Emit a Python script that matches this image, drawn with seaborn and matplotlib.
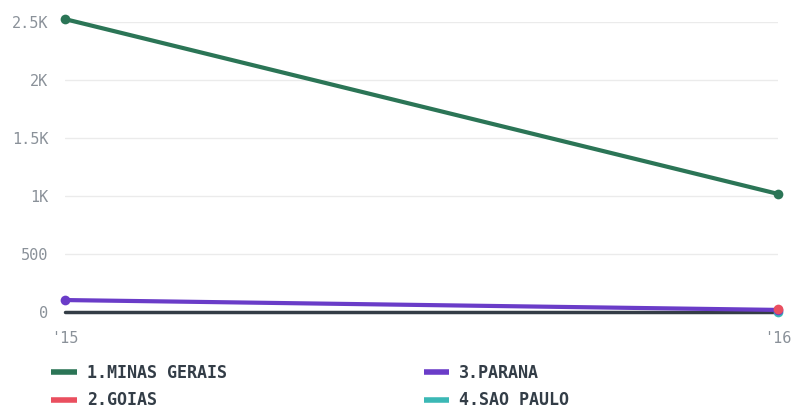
import matplotlib
matplotlib.use("Agg")
import matplotlib.pyplot as plt
import numpy as np
import pandas as pd
import seaborn as sns
from matplotlib.lines import Line2D
from matplotlib.ticker import FixedLocator

years = ["'15", "'16"]
states = ["1.MINAS GERAIS", "2.GOIAS", "3.PARANA", "4.SAO PAULO"]
minas_gerais = [2525, 1018]
goias = [np.nan, 26]
parana = [103, 18]
sao_paulo = [np.nan, 3]
colors = ["#2b7556", "#ea4f5f", "#6a3cc8", "#3bb8b5"]

values = {s: v for s, v in zip(states, [minas_gerais, goias, parana, sao_paulo])}
df = pd.DataFrame(
    [(s, i, v) for s in states for i, v in enumerate(values[s])],
    columns=["state", "x", "value"],
)

sns.set_style("white")
plt.rcParams["font.family"] = ["DejaVu Sans Mono"]

fig = plt.figure(figsize=(7.93, 4.08), dpi=100)
ax = fig.add_axes([65 / 793, 1 - 312 / 408, (778 - 65) / 793, 290 / 408])

sns.lineplot(
    data=df,
    x="x",
    y="value",
    hue="state",
    hue_order=states,
    palette=colors,
    marker="o",
    markersize=7,
    markeredgewidth=0,
    linewidth=3,
    legend=False,
    ax=ax,
)
zorders = [5, 7, 6, 4]
for line, z in zip(ax.lines, zorders):
    line.set_zorder(z)
    line.set_clip_on(False)

ax.axhline(0, color="#343d46", lw=2.5, zorder=3, clip_on=False)
ax.set_xlim(0, 1)
ax.set_ylim(0, 2500)
ax.yaxis.set_major_locator(FixedLocator([0, 500, 1000, 1500, 2000, 2500]))
ax.set_yticklabels(["0", "500", "1K", "1.5K", "2K", "2.5K"])
ax.set_xticks([0, 1])
ax.set_xticklabels(years)
ax.grid(axis="y", color="#ebebeb", lw=1)
ax.set_axisbelow(True)
ax.tick_params(axis="both", length=0, labelsize=11, labelcolor="#8a9199")
ax.tick_params(axis="y", pad=12)
ax.tick_params(axis="x", pad=14)
ax.set_xlabel("")
ax.set_ylabel("")
sns.despine(ax=ax, left=True, bottom=True)

handles = [Line2D([0], [0], color=c, lw=4, solid_capstyle="butt") for c in colors]
leg = fig.legend(
    handles,
    states,
    loc="upper left",
    bbox_to_anchor=(36 / 793, 1 - 349 / 408),
    ncol=2,
    frameon=False,
    handlelength=1.55,
    handletextpad=0.6,
    columnspacing=11.8,
    labelspacing=0.56,
    prop={"family": "DejaVu Sans Mono", "weight": "bold", "size": 12},
)
for t in leg.get_texts():
    t.set_color("#333d47")

fig.savefig("out.png", dpi=100)
